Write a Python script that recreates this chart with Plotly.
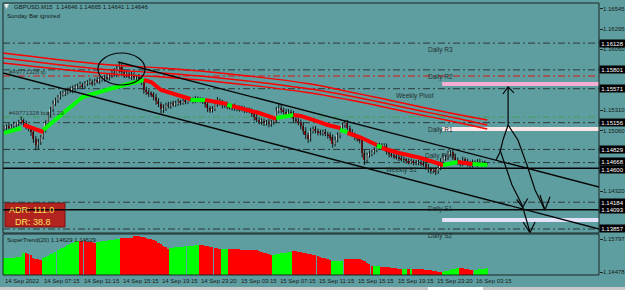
import plotly.graph_objects as go

# ---------------- canvas geometry ----------------
W, H = 625, 290
ML, MR, MT, MB = 3, 26, 3, 15
PW, PH = W - ML - MR, H - MT - MB


def pxx(px):
    return (px - ML) / PW


def pxy(py):
    return (H - MB - py) / PH


MAIN_DOM = [pxy(233), 1.0]
SUB_DOM = [0.0, pxy(234)]

# ---------------- data ----------------
symbol = "GBPUSD,M15"
first_open = 1.15080
close = [
    1.15091, 1.15110, 1.15085, 1.15120, 1.15135, 1.15140, 1.15160, 1.15185, 1.15150, 1.15110,
    1.15091, 1.15040, 1.14960, 1.14880, 1.14920, 1.14981, 1.15060, 1.15150, 1.15250, 1.15320,
    1.15384, 1.15430, 1.15470, 1.15500, 1.15515, 1.15531, 1.15560, 1.15545, 1.15580, 1.15590,
    1.15604, 1.15620, 1.15600, 1.15630, 1.15645, 1.15653, 1.15640, 1.15670, 1.15660, 1.15685,
    1.15690, 1.15710, 1.15700, 1.15735, 1.15760, 1.15751, 1.15800, 1.15840, 1.15770, 1.15740,
    1.15751, 1.15720, 1.15735, 1.15700, 1.15710, 1.15690, 1.15660, 1.15560, 1.15530, 1.15510,
    1.15506, 1.15470, 1.15420, 1.15380, 1.15320, 1.15335, 1.15370, 1.15360, 1.15390, 1.15380,
    1.15396, 1.15410, 1.15400, 1.15420, 1.15415, 1.15433, 1.15440, 1.15425, 1.15445, 1.15430,
    1.15433, 1.15420, 1.15380, 1.15330, 1.15310, 1.15323, 1.15380, 1.15420, 1.15400, 1.15370,
    1.15384, 1.15350, 1.15340, 1.15355, 1.15330, 1.15335, 1.15320, 1.15330, 1.15310, 1.15305,
    1.15299, 1.15260, 1.15220, 1.15190, 1.15170, 1.15176, 1.15150, 1.15165, 1.15140, 1.15160,
    1.15189, 1.15300, 1.15340, 1.15310, 1.15290, 1.15274, 1.15290, 1.15260, 1.15200, 1.15180,
    1.15164, 1.15120, 1.15060, 1.15000, 1.14960, 1.15054, 1.15080, 1.15060, 1.15040, 1.15030,
    1.15042, 1.15020, 1.15000, 1.14980, 1.14900, 1.14944, 1.15000, 1.15080, 1.15130, 1.15150,
    1.15091, 1.15040, 1.15010, 1.14980, 1.14960, 1.14944, 1.14780, 1.14700, 1.14760, 1.14780,
    1.14798, 1.14820, 1.14860, 1.14880, 1.14870, 1.14871, 1.14800, 1.14770, 1.14760, 1.14745,
    1.14736, 1.14720, 1.14710, 1.14700, 1.14690, 1.14675, 1.14680, 1.14670, 1.14665, 1.14670,
    1.14663, 1.14650, 1.14620, 1.14590, 1.14570, 1.14577, 1.14560, 1.14600, 1.14680, 1.14720,
    1.14724, 1.14780, 1.14800, 1.14740, 1.14700, 1.14675, 1.14650, 1.14700, 1.14690, 1.14660,
    1.14639, 1.14670, 1.14650, 1.14680, 1.14660, 1.14663, 1.14646, 1.14646,
]
# wick lengths in points (0.00001)
wick_up = [
    30, 25, 40, 20, 35, 25, 30, 45, 20, 30, 25, 20, 30, 35, 40, 25, 30, 35, 40, 30,
    45, 30, 25, 40, 35, 30, 25, 40, 30, 35, 30, 40, 25, 35, 30, 45, 30, 25, 40, 30,
    35, 30, 45, 30, 40, 60, 50, 57, 40, 35, 45, 30, 40, 35, 30, 40, 25, 30, 35, 30,
    30, 25, 40, 35, 30, 45, 30, 40, 25, 35, 30, 40, 25, 35, 30, 40, 30, 25, 35, 30,
    35, 30, 25, 40, 30, 35, 45, 50, 30, 35, 30, 25, 40, 30, 35, 25, 30, 35, 25, 30,
    35, 30, 25, 40, 30, 35, 30, 25, 40, 30, 45, 50, 56, 40, 30, 35, 30, 25, 40, 30,
    35, 30, 45, 40, 35, 40, 30, 35, 25, 30, 30, 35, 25, 40, 30, 45, 40, 35, 30, 39,
    40, 30, 35, 25, 30, 35, 40, 45, 30, 35, 30, 35, 40, 30, 25, 35, 30, 25, 30, 35,
    30, 25, 35, 30, 25, 30, 35, 25, 30, 30, 25, 30, 35, 30, 25, 30, 35, 40, 45, 50,
    40, 35, 22, 40, 35, 30, 25, 40, 30, 25, 30, 35, 25, 30, 35, 25, 30, 19,
]
wick_dn = [
    30, 35, 25, 40, 30, 35, 25, 30, 45, 35, 40, 45, 50, 60, 45, 35, 30, 25, 30, 35,
    30, 25, 35, 30, 25, 35, 30, 25, 30, 35, 25, 30, 35, 30, 25, 30, 35, 30, 25, 30,
    30, 35, 25, 30, 35, 30, 40, 35, 45, 40, 35, 30, 40, 30, 35, 40, 45, 50, 35, 40,
    35, 40, 45, 35, 50, 46, 35, 30, 35, 30, 30, 35, 30, 25, 35, 30, 25, 35, 30, 25,
    30, 35, 40, 45, 35, 30, 25, 30, 35, 40, 35, 30, 25, 35, 30, 35, 30, 25, 35, 30,
    30, 35, 40, 30, 35, 40, 35, 30, 40, 35, 30, 35, 30, 40, 35, 30, 35, 45, 40, 35,
    40, 45, 50, 45, 52, 35, 30, 35, 40, 30, 35, 30, 40, 45, 50, 35, 30, 35, 30, 35,
    40, 35, 30, 40, 35, 40, 50, 61, 35, 30, 35, 30, 25, 30, 35, 30, 35, 40, 30, 35,
    30, 35, 30, 25, 35, 30, 25, 35, 30, 30, 35, 30, 40, 45, 40, 35, 44, 30, 25, 30,
    30, 25, 35, 40, 45, 35, 30, 25, 35, 40, 35, 30, 25, 35, 30, 35, 25, 5,
]

# SuperTrend line on the price chart: (colour, bar indices, values)
st_main = [
    ("G", [0, 7], [1.15030, 1.15091]),
    ("R", [8, 16], [1.15128, 1.15042]),
    ("G", [16, 32, 43, 57], [1.15066, 1.15470, 1.15567, 1.15677]),
    ("R", [57, 60, 64, 68, 74, 76], [1.15677, 1.15653, 1.15555, 1.15519, 1.15457, 1.15445]),
    ("G", [76, 82], [1.15433, 1.15433]),
    ("R", [82, 91], [1.15433, 1.15384]),
    ("G", [91, 93], [1.15372, 1.15360]),
    ("R", [93, 100, 104, 111], [1.15360, 1.15311, 1.15274, 1.15201]),
    ("G", [111, 118], [1.15213, 1.15250]),
    ("R", [118, 121, 126, 132, 137], [1.15250, 1.15237, 1.15189, 1.15128, 1.15091]),
    ("G", [137, 140], [1.15066, 1.15042]),
    ("R", [140, 145, 152], [1.15030, 1.14981, 1.14883]),
    ("G", [152, 154], [1.14871, 1.14859]),
    ("R", [154, 161, 170, 179], [1.14846, 1.14785, 1.14724, 1.14639]),
    ("G", [179, 185], [1.14639, 1.14675]),
    ("R", [185, 191], [1.14675, 1.14651]),
    ("G", [191, 197], [1.14651, 1.14639]),
]

# SuperTrend(20) histogram in the sub-window, one value per bar
st_hist = [
    1.15038, 1.15040, 1.15045, 1.15050, 1.15055, 1.15060, 1.15070, 1.15080, 1.15238,
    1.15238, 1.15200, 1.15158,
    1.15040, 1.15000, 1.14980, 1.14958,
    1.15038, 1.15080, 1.15130, 1.15180, 1.15230, 1.15290, 1.15340, 1.15390, 1.15440, 1.15490,
    1.15540, 1.15590, 1.15640, 1.15680, 1.15718,
    1.15718, 1.15710, 1.15700, 1.15690, 1.15680, 1.15660, 1.15640,
    1.15678, 1.15690, 1.15700, 1.15710, 1.15730, 1.15740, 1.15760, 1.15770, 1.15790, 1.15798,
    1.15838, 1.15838, 1.15838, 1.15838, 1.15838,
    1.15918, 1.15918, 1.15900, 1.15880, 1.15860, 1.15840, 1.15800, 1.15780,
    1.15758, 1.15700, 1.15640, 1.15580, 1.15520, 1.15460, 1.15400,
    1.15438, 1.15450, 1.15460, 1.15470, 1.15480, 1.15490, 1.15500, 1.15510, 1.15520, 1.15530,
    1.15545, 1.15558,
    1.15558, 1.15540, 1.15520, 1.15500, 1.15480, 1.15460, 1.15440, 1.15420, 1.15400,
    1.15398, 1.15398, 1.15398,
    1.15398, 1.15395, 1.15390, 1.15385, 1.15380, 1.15378, 1.15375, 1.15370, 1.15365, 1.15360,
    1.15358,
    1.15340, 1.15310, 1.15280, 1.15250, 1.15220, 1.15190, 1.15158,
    1.15158, 1.15180, 1.15200, 1.15220, 1.15240, 1.15250, 1.15265, 1.15278,
    1.15318, 1.15300, 1.15280, 1.15260,
    1.15238, 1.15220, 1.15200, 1.15180, 1.15160, 1.15140, 1.15100, 1.15060, 1.15040, 1.15020,
    1.14990, 1.14960,
    1.14918, 1.14918, 1.14918, 1.14918, 1.14918,
    1.15000, 1.15000, 1.15000, 1.14998, 1.14995, 1.14990, 1.14985,
    1.14958, 1.14900, 1.14840, 1.14780, 1.14718,
    1.14718, 1.14718, 1.14718,
    1.14680, 1.14675, 1.14670, 1.14660, 1.14650, 1.14640, 1.14630, 1.14610, 1.14600,
    1.14598, 1.14598, 1.14598, 1.14598, 1.14598, 1.14598,
    1.14598, 1.14590, 1.14580, 1.14570, 1.14560, 1.14540, 1.14520, 1.14500, 1.14490, 1.14478,
    1.14478, 1.14500, 1.14530, 1.14560, 1.14590, 1.14615, 1.14638,
    1.14638, 1.14620, 1.14600, 1.14580, 1.14560, 1.14540,
    1.14560, 1.14570, 1.14580, 1.14590, 1.14600, 1.14629,
]
st_hist_colors = (
    "GGGGGGGGG" "RRRRRRR" "GGGGGGGGGGGGGGG" "RRRRRRR" "GGGGGGGGGG"
    "RRRRRRRRRRRRRRRRRRRR" "GGGGGGGGGGGG" "RRRRRRRRR" "GGG" "RRRRRRRRRRRRRRRRRR"
    "GGGGGGGG" "RRRRRRRRRRRRRRRR" "GGGGG" "RRRRRRRRRRRR" "GGG" "RRRRRRRRR" "GGRGRR"
    "RRRRRRRRRR" "GGGGGGG" "RRRRRR" "GGGGGG"
)

# three long moving-average style red curves
ma_x = [-0.5, 39, 64, 80, 125, 141, 153, 170, 186, 197]
ma_1 = [1.16007, 1.15873, 1.15824, 1.15787, 1.15629, 1.15531, 1.15457, 1.15348, 1.15250, 1.15189]
ma_2 = [1.15946, 1.15812, 1.15763, 1.15726, 1.15567, 1.15482, 1.15409, 1.15299, 1.15201, 1.15128]
ma_3 = [1.15885, 1.15763, 1.15714, 1.15677, 1.15519, 1.15433, 1.15360, 1.15250, 1.15152, 1.15079]

# pivot levels
pivot_names = ["Daily R3", "Daily R2", "Weekly Pivot", "Daily R1", "Daily Pivot",
               "Weekly S1", "Daily S1", "Daily S2"]
pivot_values = [1.16128, 1.15801, 1.15571, 1.15156, 1.14829, 1.14668, 1.14184, 1.13857]
pivot_label_bar = [172, 172, 159, 172, 171, 155, 172, 172]
solid_levels = [1.14600, 1.14093]
order_tp = 1.15726
order_open = 1.15225
order_texts = ["#49771328 tp", "#49771328 buy 1.29"]

# zones (price low, price high) starting at a bar
zone_start_bar = 178.6
zone_lows = [1.15604, 1.15055, 1.13942]
zone_highs = [1.15653, 1.15103, 1.13991]
zone_colors = ["#f4b0d2", "#fde6e6", "#e4e2f8"]

# trend channel
chan_upper_x, chan_upper_y = [46.5, 242.6], [1.15897, 1.14370]
chan_lower_x, chan_lower_y = [-0.41, 242.6], [1.15763, 1.13857]

# hand drawn sketch (bar index, price)
sketch = [
    ([205.5, 205.5], [1.15128, 1.15580]),
    ([203.4, 205.5, 207.9], [1.15506, 1.15592, 1.15519]),
    ([200.6, 202.2, 203.4, 205.5], [1.14700, 1.14797, 1.14944, 1.15128]),
    ([202.2, 207.1, 211.2, 214.4], [1.14822, 1.14394, 1.14150, 1.13820]),
    ([209.0, 211.4, 213.5], [1.14220, 1.14120, 1.14230]),
    ([211.6, 214.4, 216.5], [1.13942, 1.13812, 1.13942]),
    ([205.5, 209.5, 213.2, 216.5, 220.5], [1.15128, 1.14944, 1.14639, 1.14333, 1.14089]),
    ([218.5, 220.5, 222.6], [1.14272, 1.14089, 1.14250]),
]
ellipse_x = [38.3, 57.5]
ellipse_y = [1.15616, 1.16007]

# price-axis labels
plain_ticks = [1.16545, 1.16295, 1.16050, 1.15310, 1.15060, 1.14320]
boxed_ticks = [1.16128, 1.15801, 1.15571, 1.15156, 1.14829, 1.14668, 1.14600,
               1.14184, 1.14093, 1.13857]
boxed_shift = [0, 0, 0, 0, 0, 1, -1, 0, 0, 0]
sub_ticks = [1.15797, 1.14478]

# time-axis labels
time_bars = [0, 16, 32, 48, 64, 80, 96, 112, 128, 144, 160, 176, 192]
time_labels = ["14 Sep 2022", "14 Sep 07:15", "14 Sep 11:15", "14 Sep 15:15",
               "14 Sep 19:15", "14 Sep 23:20", "15 Sep 03:15", "15 Sep 07:15",
               "15 Sep 11:15", "15 Sep 15:15", "15 Sep 19:15", "15 Sep 23:20",
               "16 Sep 03:15"]

adr_text = ["ADR: 111.0", "DR: 38.8"]

assert len(close) == len(wick_up) == len(wick_dn) == len(st_hist) == len(st_hist_colors) == 198

# ---------------- derived ----------------
n = len(close)
idx = list(range(n))
opens = [first_open] + close[:-1]
highs = [max(o, c) + u * 1e-5 for o, c, u in zip(opens, close, wick_up)]
lows = [min(o, c) - d * 1e-5 for o, c, d in zip(opens, close, wick_dn)]

BG = "#5f9ea0"
FONT = "Liberation Sans"
LINE_DARK = "#2b3939"
GREEN = "#00ff00"
RED = "#ff0000"
BULL = "#c4cccc"
BEAR = "#8e1616"
DASHDOT = "7px,3px,2px,3px"

fig = go.Figure()

# sub-window histogram
fig.add_trace(go.Bar(
    x=idx, y=st_hist, yaxis="y2", width=0.78,
    marker=dict(color=[GREEN if c == "G" else RED for c in st_hist_colors], line=dict(width=0)),
    hoverinfo="skip", showlegend=False))

# candle wicks
wx, wy = [], []
for i, h, l in zip(idx, highs, lows):
    wx += [i, i, None]
    wy += [l, h, None]
fig.add_trace(go.Scatter(x=wx, y=wy, mode="lines", line=dict(color="#0e1414", width=1),
                         hoverinfo="skip", showlegend=False))
# candle bodies
fig.add_trace(go.Bar(
    x=idx, base=[min(o, c) for o, c in zip(opens, close)],
    y=[max(abs(c - o), 0.00008) for o, c in zip(opens, close)],
    width=0.62,
    marker=dict(color=[BULL if c >= o else BEAR for o, c in zip(opens, close)], line=dict(width=0)),
    hoverinfo="skip", showlegend=False))

# supertrend line on price chart
for col, xs, ys in st_main:
    fig.add_trace(go.Scatter(x=xs, y=ys, mode="lines",
                             line=dict(color=GREEN if col == "G" else RED, width=4),
                             hoverinfo="skip", showlegend=False))

# red curves
for ys in (ma_1, ma_2, ma_3):
    fig.add_trace(go.Scatter(x=ma_x, y=ys, mode="lines", line=dict(color=RED, width=1.4),
                             line_shape="spline", hoverinfo="skip", showlegend=False))

# channel lines
for xs, ys in ((chan_upper_x, chan_upper_y), (chan_lower_x, chan_lower_y)):
    fig.add_trace(go.Scatter(x=xs, y=ys, mode="lines", line=dict(color="#050505", width=1.4),
                             hoverinfo="skip", showlegend=False))

# sketch
for xs, ys in sketch:
    fig.add_trace(go.Scatter(x=xs, y=ys, mode="lines", line=dict(color="#050505", width=1.2),
                             hoverinfo="skip", showlegend=False))

# ---------------- shapes ----------------
shapes = []
# ADR box (below the level lines)
shapes.append(dict(type="rect", xref="paper", yref="paper", x0=pxx(5), x1=pxx(65),
                   y0=pxy(227), y1=pxy(203), fillcolor="#b3231f",
                   line=dict(color="#7d1212", width=1), layer="below"))
# zones
for lo, hi, colr in zip(zone_lows, zone_highs, zone_colors):
    shapes.append(dict(type="rect", xref="x", yref="y", x0=zone_start_bar, x1=242.6,
                       y0=lo, y1=hi, fillcolor=colr, line=dict(width=0), layer="below"))
# pivot lines
for v in pivot_values:
    shapes.append(dict(type="line", xref="paper", yref="y", x0=0, x1=1, y0=v, y1=v,
                       line=dict(color=LINE_DARK, width=1, dash=DASHDOT), layer="below"))
shapes.append(dict(type="line", xref="paper", yref="y", x0=0, x1=1, y0=order_tp, y1=order_tp,
                   line=dict(color="#e01010", width=1, dash=DASHDOT), layer="below"))
shapes.append(dict(type="line", xref="paper", yref="y", x0=0, x1=1, y0=order_open, y1=order_open,
                   line=dict(color="#3f9f5a", width=1, dash=DASHDOT), layer="below"))
for v in solid_levels:
    shapes.append(dict(type="line", xref="paper", yref="y", x0=0, x1=1, y0=v, y1=v,
                       line=dict(color="#050505", width=1.5), layer="below"))
# ellipse
shapes.append(dict(type="circle", xref="x", yref="y", x0=ellipse_x[0], x1=ellipse_x[1],
                   y0=ellipse_y[0], y1=ellipse_y[1], line=dict(color="#050505", width=1.2)))
# window frames
shapes.append(dict(type="rect", xref="paper", yref="paper", x0=0, x1=1, y0=MAIN_DOM[0], y1=1,
                   line=dict(color="#1b2626", width=1)))
shapes.append(dict(type="rect", xref="paper", yref="paper", x0=0, x1=1, y0=0, y1=SUB_DOM[1],
                   line=dict(color="#1b2626", width=1)))
# bottom strip
shapes.append(dict(type="rect", xref="paper", yref="paper", x0=pxx(0), x1=pxx(625),
                   y0=pxy(290), y1=pxy(287), fillcolor="#c9c9c9", line=dict(width=0)))
shapes.append(dict(type="rect", xref="paper", yref="paper", x0=pxx(428), x1=pxx(483),
                   y0=pxy(290), y1=pxy(287), fillcolor="#ffffff", line=dict(width=0)))
# small header icon
shapes.append(dict(type="path", xref="paper", yref="paper",
                   path=f"M {pxx(4)},{pxy(4)} L {pxx(9)},{pxy(4)} L {pxx(6.5)},{pxy(9)} Z",
                   fillcolor="#e6e6e6", line=dict(width=0)))

# ---------------- annotations ----------------
ann = []
TXT = "#101818"
ann.append(dict(xref="paper", yref="paper", x=pxx(12), y=pxy(7), xanchor="left", yanchor="middle",
                text=f"{symbol}  {opens[-1]:.5f} {highs[-1]:.5f} {lows[-1]:.5f} {close[-1]:.5f}",
                showarrow=False, font=dict(family=FONT, size=6, color=TXT)))
ann.append(dict(xref="paper", yref="paper", x=pxx(5), y=pxy(16), xanchor="left", yanchor="middle",
                text="Sunday Bar ignored", showarrow=False, font=dict(family=FONT, size=6, color=TXT)))
ann.append(dict(xref="paper", yref="paper", x=pxx(5), y=pxy(240), xanchor="left", yanchor="middle",
                text=f"SuperTrend(20) {st_hist[-1]:.5f} {st_hist[-1]:.5f}", showarrow=False,
                font=dict(family=FONT, size=6, color=TXT)))
# order labels
for txt, v in zip(order_texts, [order_tp, order_open]):
    ann.append(dict(xref="paper", yref="y", x=pxx(7), y=v, xanchor="left", yanchor="bottom",
                    yshift=-1, text=txt, showarrow=False,
                    font=dict(family=FONT, size=6, color="#2c3c3c")))
# pivot labels
for name, v, b in zip(pivot_names, pivot_values, pivot_label_bar):
    ann.append(dict(xref="x", yref="y", x=b, y=v, xanchor="left", yanchor="top", yshift=-1,
                    text=name, showarrow=False, font=dict(family=FONT, size=6.5, color="#223030")))
# ADR texts
ann.append(dict(xref="paper", yref="paper", x=pxx(31), y=pxy(210), xanchor="center", yanchor="middle",
                text=adr_text[0], showarrow=False, font=dict(family=FONT, size=9, color="#f6e05c")))
ann.append(dict(xref="paper", yref="paper", x=pxx(33), y=pxy(221.5), xanchor="center", yanchor="middle",
                text=adr_text[1], showarrow=False, font=dict(family=FONT, size=9, color="#f6e05c")))
# price axis labels
for v in plain_ticks:
    ann.append(dict(xref="paper", yref="y", x=1, y=v, xanchor="left", yanchor="middle", xshift=2,
                    text=f"{v:.5f}", showarrow=False, font=dict(family=FONT, size=6, color="#121a1a")))
for v in sub_ticks:
    ann.append(dict(xref="paper", yref="y2", x=1, y=v, xanchor="left", yanchor="middle", xshift=2,
                    text=f"{v:.5f}", showarrow=False, font=dict(family=FONT, size=6, color="#121a1a")))
for v, s in zip(boxed_ticks, boxed_shift):
    ann.append(dict(xref="paper", yref="y", x=1, y=v, xanchor="left", yanchor="middle", xshift=0,
                    yshift=s, text=f"{v:.5f}", showarrow=False, bgcolor="#000000", borderpad=0,
                    width=25, height=7, align="center",
                    font=dict(family=FONT, size=6, color="#ffffff")))
# time labels
for b, t in zip(time_bars, time_labels):
    ann.append(dict(xref="x", yref="paper", x=b - 0.4, y=pxy(281), xanchor="left", yanchor="middle",
                    text=t, showarrow=False, font=dict(family=FONT, size=6, color="#121a1a")))

fig.update_layout(
    width=W, height=H,
    margin=dict(l=ML, r=MR, t=MT, b=MB, pad=0),
    paper_bgcolor=BG, plot_bgcolor=BG,
    barmode="overlay", bargap=0,
    showlegend=False,
    shapes=shapes, annotations=ann,
    xaxis=dict(domain=[0, 1], range=[-0.41, 242.56], anchor="y2", showgrid=False, zeroline=False,
               showticklabels=False, ticks="", showline=False, fixedrange=True),
    yaxis=dict(domain=MAIN_DOM, range=[1.13808, 1.16618], anchor="x", side="right",
               showgrid=False, zeroline=False, showticklabels=False, tickmode="array",
               tickvals=plain_ticks + boxed_ticks, ticks="outside", ticklen=3, tickcolor="#1b2626",
               showline=False),
    yaxis2=dict(domain=SUB_DOM, range=[1.14358, 1.15998], anchor="x", side="right",
                showgrid=False, zeroline=False, showticklabels=False, tickmode="array",
                tickvals=sub_ticks, ticks="outside", ticklen=3, tickcolor="#1b2626", showline=False),
    font=dict(family=FONT, size=6),
)

fig.write_html("out.html")
